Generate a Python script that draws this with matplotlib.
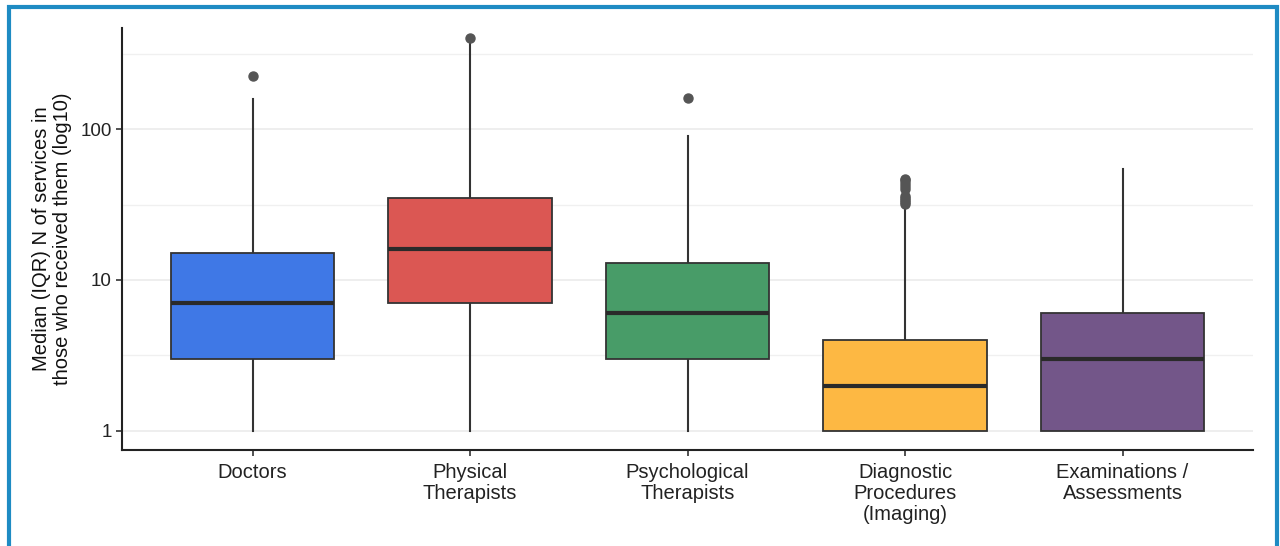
import matplotlib
matplotlib.use("Agg")
import matplotlib.pyplot as plt
from matplotlib.patches import Rectangle
from matplotlib.ticker import FixedLocator, NullFormatter

plt.rcParams['font.family'] = ['Liberation Sans', 'DejaVu Sans']

categories = ["Doctors", "Physical\nTherapists", "Psychological\nTherapists",
              "Diagnostic\nProcedures\n(Imaging)", "Examinations /\nAssessments"]
whisker_low = [1, 1, 1, 1, 1]
q1 = [3, 7, 3, 1, 1]
median = [7, 16, 6, 2, 3]
q3 = [15, 35, 13, 4, 6]
whisker_high = [158, 390, 90, 31, 54]
outliers = [[224], [400], [160], [32, 33, 34, 35, 36, 40, 42, 44, 46, 47], []]
colors = ["#3F78E6", "#DB5753", "#489C68", "#FDB843", "#735689"]

fig = plt.figure(figsize=(12.8, 5.46), dpi=100)
ax = fig.add_axes([122/1280, 1-450/546, (1253-122)/1280, (450-28)/546])

stats = []
for i in range(len(categories)):
    stats.append(dict(whislo=whisker_low[i], q1=q1[i], med=median[i], q3=q3[i],
                      whishi=whisker_high[i], fliers=outliers[i]))

bp = ax.bxp(stats, positions=range(len(categories)), widths=0.75, patch_artist=True,
            showcaps=False,
            boxprops=dict(edgecolor="#333333", linewidth=1.3),
            medianprops=dict(color="#2a2a2a", linewidth=3),
            whiskerprops=dict(color="#333333", linewidth=1.5),
            flierprops=dict(marker="o", markerfacecolor="#555555", markeredgecolor="#555555",
                            markersize=6.5, linestyle="none"))
for patch, c in zip(bp["boxes"], colors):
    patch.set_facecolor(c)
    patch.set_zorder(2)
for w in bp["whiskers"]:
    w.set_zorder(1.5)

ax.set_yscale("log")
ax.set_ylim(10**-0.126, 10**2.669)
ax.set_xlim(-0.6, 4.6)
ax.yaxis.set_major_locator(FixedLocator([1, 10, 100]))
ax.yaxis.set_minor_locator(FixedLocator([10**-0.5, 10**0.5, 10**1.5, 10**2.5]))
ax.yaxis.set_minor_formatter(NullFormatter())
ax.set_yticklabels(["1", "10", "100"], fontsize=13.5)
ax.set_xticks(range(len(categories)))
ax.set_xticklabels(categories, linespacing=1.15, fontsize=14.5)

ax.grid(True, which="major", axis="y", color="#EBEBEB", linewidth=1.2, zorder=0)
ax.grid(True, which="minor", axis="y", color="#F0F0F0", linewidth=1.0, zorder=0)
ax.set_axisbelow(True)
for s in ["top", "right"]:
    ax.spines[s].set_visible(False)
for s in ["left", "bottom"]:
    ax.spines[s].set_color("#222222")
    ax.spines[s].set_linewidth(1.5)
ax.tick_params(axis="x", which="major", pad=5)
ax.tick_params(axis="both", which="major", length=4, width=1.2, color="#333333",
               labelcolor="#222222")
ax.tick_params(axis="y", which="minor", length=0)

ax.set_ylabel("Median (IQR) N of services in\nthose who received them (log10)",
              fontsize=14.5, color="#111111", labelpad=6, linespacing=1.15)

fig.patches.append(Rectangle((9/1280, -0.05), (1277-9)/1280, 1.05 - 7/546,
                             transform=fig.transFigure, fill=False,
                             edgecolor="#1E8BC3", linewidth=3))

fig.savefig("out.png", dpi=100)
